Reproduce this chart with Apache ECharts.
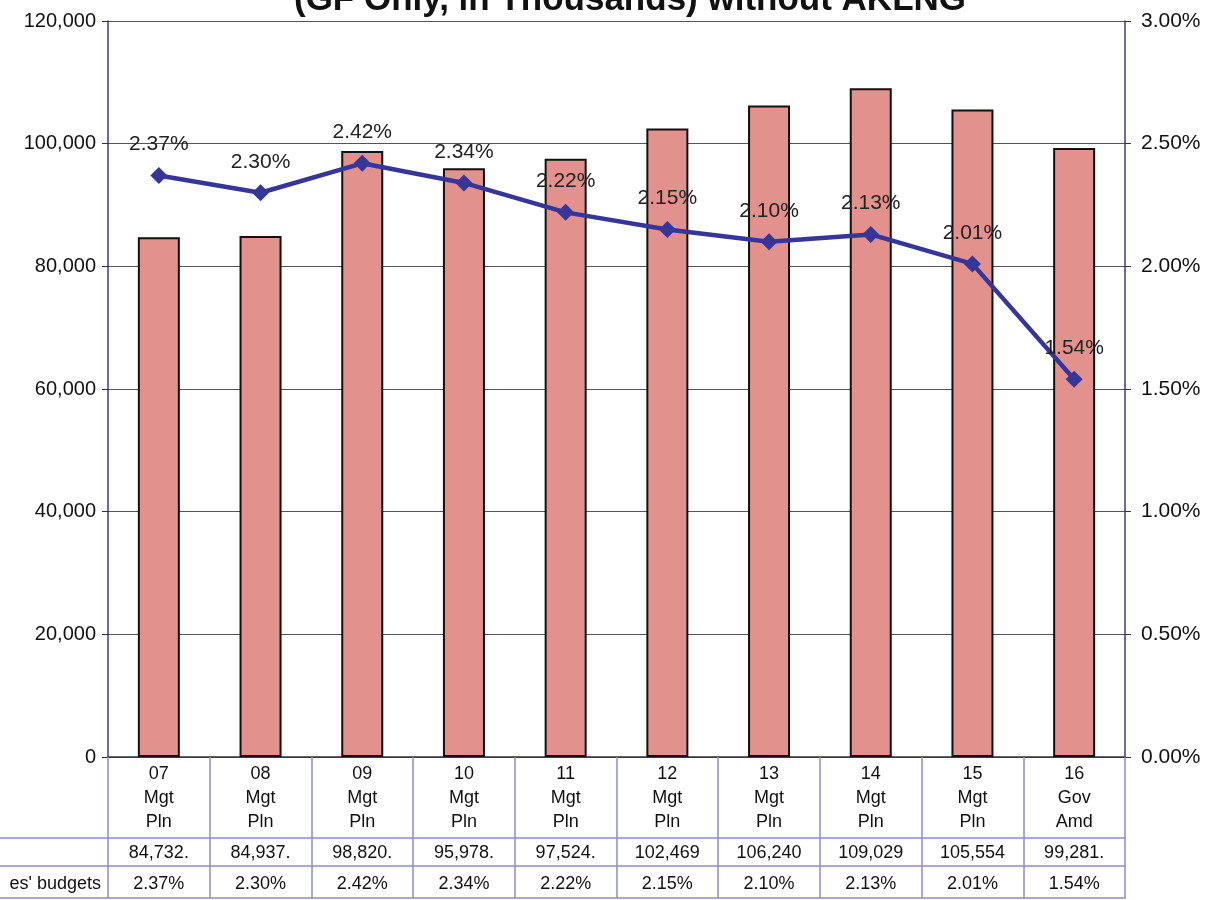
<!DOCTYPE html>
<html>
<head>
<meta charset="utf-8">
<script src="https://cdn.jsdelivr.net/npm/echarts@6/dist/echarts.min.js"></script>
<style>
    html, body { margin: 0; padding: 0; background: #fff; }
    #chart { width: 1215px; height: 900px; }
</style>
</head>
<body>
<div id="chart"></div>
<script>
// fiscal year columns
const categories = ['07\nMgt\nPln', '08\nMgt\nPln', '09\nMgt\nPln', '10\nMgt\nPln', '11\nMgt\nPln',
    '12\nMgt\nPln', '13\nMgt\nPln', '14\nMgt\nPln', '15\nMgt\nPln', '16\nGov\nAmd'];
// GF amounts, thousands
const amounts = [84732, 84937, 98820, 95978, 97524, 102469, 106240, 109029, 105554, 99281];
// share of agencies' budgets, %
const shares = [2.37, 2.30, 2.42, 2.34, 2.22, 2.15, 2.10, 2.13, 2.01, 1.54];
// table row text as printed (cells are truncated in the source)
const amountCells = ['84,732.', '84,937.', '98,820.', '95,978.', '97,524.', '102,469', '106,240', '109,029', '105,554', '99,281.'];
const shareCells = ['2.37%', '2.30%', '2.42%', '2.34%', '2.22%', '2.15%', '2.10%', '2.13%', '2.01%', '1.54%'];

const FONT = '"Liberation Sans", Arial, sans-serif';
const TABLE_LINE = '#8c8cd0';

let chart = echarts.init(document.getElementById('chart'));

const option = {
    backgroundColor: '#fff',
    animation: false,
    textStyle: { fontFamily: FONT },
    grid: { left: 108, right: 90, top: 21, bottom: 143 },
    graphic: [
        {
            type: 'text', x: 630, y: -17,
            style: { text: '(GF Only, in Thousands) without AKLNG', font: 'bold 35px ' + FONT, textAlign: 'center', fill: '#111' }
        },
        { type: 'line', shape: { x1: 0, y1: 838, x2: 108, y2: 838 }, style: { stroke: TABLE_LINE, lineWidth: 1.5 } },
        { type: 'line', shape: { x1: 0, y1: 866, x2: 108, y2: 866 }, style: { stroke: TABLE_LINE, lineWidth: 1.5 } },
        { type: 'line', shape: { x1: 0, y1: 898, x2: 108, y2: 898 }, style: { stroke: TABLE_LINE, lineWidth: 1.5 } },
        {
            type: 'text', x: 101, y: 884,
            style: { text: "es' budgets", font: '18px ' + FONT, textAlign: 'right', textVerticalAlign: 'middle', fill: '#111' }
        }
    ],
    xAxis: [
        {
            type: 'category', data: categories, position: 'bottom',
            axisLine: { onZero: false, lineStyle: { color: '#333', width: 1.5 } },
            axisTick: { show: true, length: 141, lineStyle: { color: TABLE_LINE, width: 1.5 } },
            axisLabel: { color: '#111', fontSize: 18, lineHeight: 24, margin: 5, interval: 0, fontFamily: FONT }
        },
        {
            type: 'category', data: amountCells, position: 'bottom', offset: 81,
            axisLine: { onZero: false, lineStyle: { color: TABLE_LINE, width: 1.5 } },
            axisTick: { show: false },
            axisLabel: { color: '#111', fontSize: 18, margin: 6, interval: 0, fontFamily: FONT }
        },
        {
            type: 'category', data: shareCells, position: 'bottom', offset: 109,
            axisLine: { onZero: false, lineStyle: { color: TABLE_LINE, width: 1.5 } },
            axisTick: { show: false },
            axisLabel: { color: '#111', fontSize: 18, margin: 9, interval: 0, fontFamily: FONT }
        },
        {
            type: 'category', data: shareCells, position: 'bottom', offset: 141,
            axisLine: { onZero: false, lineStyle: { color: TABLE_LINE, width: 1.5 } },
            axisTick: { show: false },
            axisLabel: { show: false }
        }
    ],
    yAxis: [
        {
            type: 'value', min: 0, max: 120000, interval: 20000, position: 'left',
            axisLine: { show: true, lineStyle: { color: '#3a3a8c', width: 1.5 } },
            axisTick: { show: true, length: 6, lineStyle: { color: '#333' } },
            axisLabel: {
                color: '#111', fontSize: 20, margin: 12, fontFamily: FONT,
                formatter: v => v.toLocaleString('en-US')
            },
            splitLine: { show: true, lineStyle: { color: '#555', width: 1.2 } }
        },
        {
            type: 'value', min: 0, max: 3, interval: 0.5, position: 'right',
            axisLine: { show: true, lineStyle: { color: '#3a3a8c', width: 1.5 } },
            axisTick: { show: true, length: 6, lineStyle: { color: '#333' } },
            axisLabel: {
                color: '#111', fontSize: 21, margin: 16, fontFamily: FONT,
                padding: [10, 0, 0, 0],
                formatter: v => v.toFixed(2) + '%'
            },
            splitLine: { show: false }
        }
    ],
    series: [
        {
            name: 'GF',
            type: 'bar',
            data: amounts,
            barWidth: 42,
            itemStyle: { color: '#e3918d', borderColor: '#111', borderWidth: 2 }
        },
        {
            name: 'Share',
            type: 'line',
            yAxisIndex: 1,
            data: shares,
            symbol: 'diamond',
            symbolSize: 17,
            lineStyle: { color: '#36369a', width: 4.5 },
            itemStyle: { color: '#36369a' },
            label: {
                show: true, position: 'top', distance: 12,
                color: '#222', fontSize: 21, fontFamily: FONT,
                formatter: p => p.value.toFixed(2) + '%'
            }
        }
    ]
};

chart.setOption(option);

window.addEventListener('resize', function () {
    chart.resize();
});
</script>
</body>
</html>
